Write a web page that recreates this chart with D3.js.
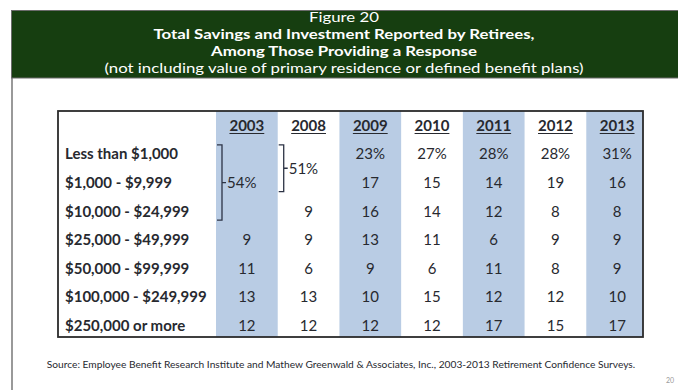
<!DOCTYPE html>
<html>
<head>
<meta charset="utf-8">
<script src="https://cdn.jsdelivr.net/npm/d3@7/dist/d3.min.js"></script>
<style>
  html, body { margin: 0; padding: 0; background: #fff; }
  svg { display: block; }
</style>
</head>
<body>
<svg id="chart" width="678" height="390"></svg>
<script>
// Savings brackets (rows) and survey years (columns)
const brackets = [
  "Less than $1,000",
  "$1,000 - $9,999",
  "$10,000 - $24,999",
  "$25,000 - $49,999",
  "$50,000 - $99,999",
  "$100,000 - $249,999",
  "$250,000 or more"
];
const years = ["2003", "2008", "2009", "2010", "2011", "2012", "2013"];
const shadedYears = ["2003", "2009", "2011", "2013"];

// Percent of retirees per bracket, one array per year (null = reported as a combined group)
const y2003 = [null, null, null, 9, 11, 13, 12];
const y2008 = [null, null, 9, 9, 6, 13, 12];
const y2009 = [23, 17, 16, 13, 9, 10, 12];
const y2010 = [27, 15, 14, 11, 6, 15, 12];
const y2011 = [28, 14, 12, 6, 11, 12, 17];
const y2012 = [28, 19, 8, 9, 8, 12, 15];
const y2013 = [31, 16, 8, 9, 9, 10, 17];
const seriesByYear = { "2003": y2003, "2008": y2008, "2009": y2009, "2010": y2010,
                       "2011": y2011, "2012": y2012, "2013": y2013 };

// Combined groups: year, first bracket index, last bracket index, value
const combinedGroups = [
  { year: "2003", from: 0, to: 2, value: 54 },
  { year: "2008", from: 0, to: 1, value: 51 }
];

const titleLines = [
  { text: "Figure 20", bold: false },
  { text: "Total Savings and Investment Reported by Retirees,", bold: true },
  { text: "Among Those Providing a Response", bold: true },
  { text: "(not including value of primary residence or defined benefit plans)", bold: false }
];
const sourceText = "Source:  Employee Benefit Research Institute and Mathew Greenwald & Associates, Inc., 2003-2013 Retirement Confidence Surveys.";
const pageNumber = "20";

const svg = d3.select("#chart");
const font = "Lato, 'Open Sans', sans-serif";
const ink = "#27292f";
const tableFont = 15;

// ---- Slide frame and title banner ----
svg.append("line")
  .attr("x1", 12).attr("x2", 12).attr("y1", 78).attr("y2", 390)
  .attr("stroke", "#555").attr("stroke-width", 1.2);

svg.append("rect")
  .attr("x", 11.5).attr("y", 10.5).attr("width", 680).attr("height", 67.5)
  .attr("fill", "#163e10").attr("stroke", "#6b6b6b").attr("stroke-width", 1);

// Title lines: compact line spacing, set slightly wide
const titleY = d3.scaleLinear().domain([0, 3]).range([22, 73]);
svg.append("g")
  .attr("transform", "translate(344,0) scale(1.2,1)")
  .selectAll("text")
  .data(titleLines)
  .join("text")
  .attr("x", 0)
  .attr("y", (d, i) => titleY(i))
  .attr("text-anchor", "middle")
  .attr("fill", "#fff")
  .attr("font-family", font)
  .attr("font-size", 14)
  .attr("font-weight", d => d.bold ? 700 : 400)
  .text(d => d.text);

// ---- Table scales ----
const tableLeft = 58, tableRight = 643, tableTop = 111, tableBottom = 337;
const x = d3.scaleBand().domain(years).range([216, 648]);
const y = d3.scaleBand().domain(["header", ...brackets]).range([tableTop, 340]);
const cy = d => y(d) + y.bandwidth() / 2;
const baseShift = tableFont * 0.36;

const table = svg.append("g");
table.append("clipPath").attr("id", "tableClip")
  .append("rect")
  .attr("x", tableLeft).attr("y", tableTop)
  .attr("width", tableRight - tableLeft).attr("height", tableBottom - tableTop);

// Shaded alternate columns
table.append("g").attr("clip-path", "url(#tableClip)")
  .selectAll("rect")
  .data(shadedYears)
  .join("rect")
  .attr("x", d => x(d))
  .attr("y", tableTop)
  .attr("width", x.bandwidth())
  .attr("height", tableBottom - tableTop)
  .attr("fill", "#b9cce4");

// Year headers, underlined
const hdr = table.append("g").selectAll("g")
  .data(years)
  .join("g")
  .attr("transform", d => `translate(${x(d) + x.bandwidth() / 2},${cy("header") + baseShift})`);
hdr.append("text")
  .attr("text-anchor", "middle")
  .attr("fill", ink)
  .attr("font-family", font)
  .attr("font-size", tableFont)
  .attr("font-weight", 700)
  .text(d => d)
  .each(function () {
    const w = this.getComputedTextLength();
    d3.select(this.parentNode).append("line")
      .attr("x1", -w / 2).attr("x2", w / 2)
      .attr("y1", 2.8).attr("y2", 2.8)
      .attr("stroke", ink).attr("stroke-width", 1.2);
  });

// Row labels
table.append("g").selectAll("text")
  .data(brackets)
  .join("text")
  .attr("x", 65)
  .attr("y", d => cy(d) + baseShift)
  .attr("fill", ink)
  .attr("font-family", font)
  .attr("font-size", tableFont)
  .attr("font-weight", 700)
  .text(d => d);

// Cell values
const cells = [];
years.forEach(yr => {
  seriesByYear[yr].forEach((v, i) => {
    if (v !== null) cells.push({ year: yr, row: brackets[i], value: v, first: i === 0 });
  });
});
table.append("g").selectAll("text")
  .data(cells)
  .join("text")
  .attr("x", d => x(d.year) + x.bandwidth() / 2)
  .attr("y", d => cy(d.row) + baseShift)
  .attr("text-anchor", "middle")
  .attr("fill", ink)
  .attr("font-family", font)
  .attr("font-size", tableFont)
  .text(d => d.first ? d.value + "%" : d.value);

// Brackets for combined groups
const brk = table.append("g").selectAll("g")
  .data(combinedGroups)
  .join("g");
brk.each(function (d) {
  const g = d3.select(this);
  const bx = x(d.year) + 6;
  const top = cy(brackets[d.from]) - 9;
  const bot = cy(brackets[d.to]) + 9;
  const mid = (top + bot) / 2;
  g.append("path")
    .attr("d", `M${bx - 5},${top}H${bx}V${bot}H${bx - 5}M${bx},${mid}H${bx + 4}`)
    .attr("fill", "none").attr("stroke", "#2c3345").attr("stroke-width", 1.3);
  g.append("text")
    .attr("x", bx + 5)
    .attr("y", mid + baseShift)
    .attr("fill", ink)
    .attr("font-family", font)
    .attr("font-size", tableFont)
    .text(d.value + "%");
});

// Table border
table.append("rect")
  .attr("x", tableLeft).attr("y", tableTop)
  .attr("width", tableRight - tableLeft).attr("height", tableBottom - tableTop)
  .attr("fill", "none").attr("stroke", "#2b2b2b").attr("stroke-width", 1.8);

// ---- Source note and page number ----
svg.append("text")
  .attr("x", 341).attr("y", 368)
  .attr("text-anchor", "middle")
  .attr("fill", ink)
  .attr("font-family", font)
  .attr("font-size", 10.2)
  .text(sourceText);

svg.append("text")
  .attr("x", 666).attr("y", 383)
  .attr("fill", "#999")
  .attr("font-family", font)
  .attr("font-size", 7)
  .text(pageNumber);
</script>
</body>
</html>
